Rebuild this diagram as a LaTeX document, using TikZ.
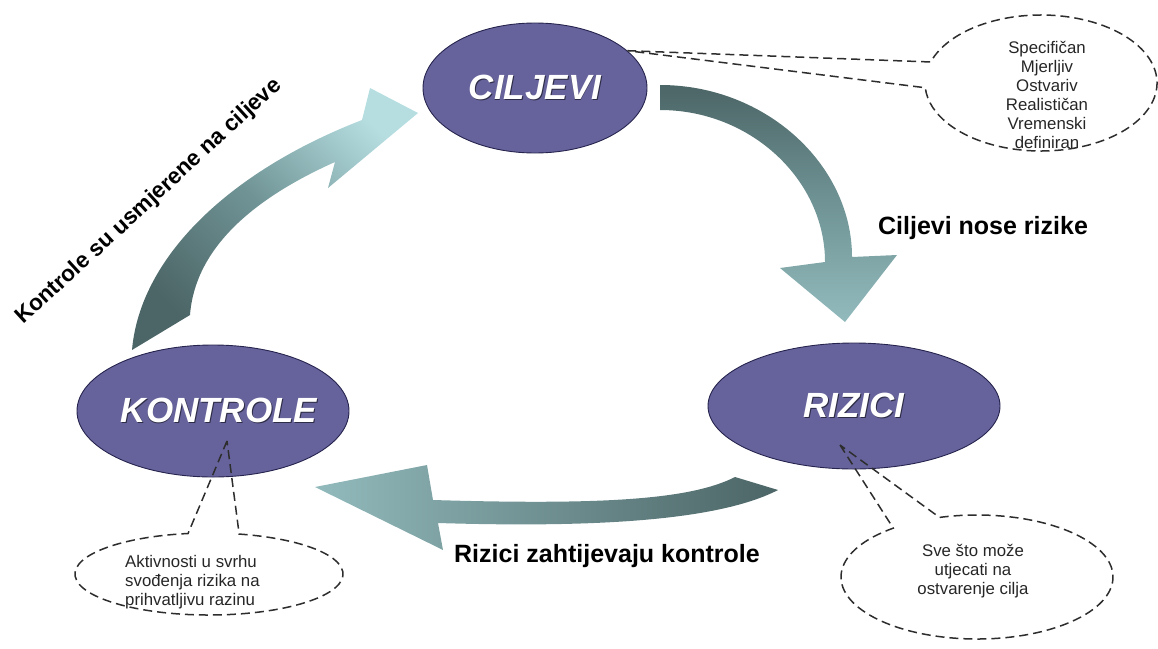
\documentclass[tikz,border=0pt]{standalone}
\usepackage{fontspec}
\setmainfont{Liberation Sans}
\usetikzlibrary{shapes.geometric,calc}
\definecolor{elfill}{RGB}{102,99,156}
\definecolor{eldraw}{RGB}{38,36,78}
\definecolor{elshadow}{RGB}{45,44,70}
\definecolor{adark}{RGB}{76,101,102}
\definecolor{amid}{RGB}{112,148,150}
\definecolor{alight}{RGB}{146,186,188}
\definecolor{alight2}{RGB}{182,222,225}
\definecolor{dashc}{RGB}{45,45,45}
\newcommand{\shtxt}[1]{\makebox[0pt]{\raisebox{-1.6pt}{\kern1.6pt\color{elshadow}#1}}\makebox[0pt]{#1}}
\begin{document}
\begin{tikzpicture}[x=1pt,y=1pt,
  mainel/.style={ellipse, fill=elfill, draw=eldraw, line width=0.9pt, inner sep=0pt,
    text=white, font=\fontsize{35}{40}\selectfont\bfseries\itshape},
  lbl/.style={font=\fontsize{25}{30}\selectfont\bfseries, text=black, inner sep=0pt},
  ctext/.style={font=\fontsize{16.8}{19}\selectfont, inner sep=0pt, text=black!85},
  dline/.style={draw=dashc, dash pattern=on 9pt off 5pt, line width=1.5pt},
]
\useasboundingbox (0,0) rectangle (1158,-648);

% block arrows
\shade[top color=adark, bottom color=alight2, middle color=amid, shading angle=135]
  (132,-350) .. controls (140,-258) and (228,-172) .. (362,-120)
  -- (370,-88) -- (418,-113) -- (328,-188) -- (335,-162)
  .. controls (250,-200) and (195,-250) .. (190,-315) -- cycle;
\shade[top color=adark, bottom color=alight, middle color=amid]
  (660,-85) .. controls (766,-85) and (852,-165) .. (852,-257)
  -- (897,-255) -- (845,-322) -- (780,-268) -- (825,-262)
  .. controls (825,-180) and (751,-110) .. (660,-110) -- cycle;
\shade[left color=alight, right color=adark]
  (735,-477) .. controls (690,-500) and (600,-505) .. (433,-500)
  -- (427,-465) -- (315,-487) -- (443,-550) -- (438,-523)
  .. controls (600,-528) and (720,-520) .. (778,-490) -- cycle;

% main ellipses
\node[mainel, minimum width=224, minimum height=130] (cil) at (535,-88) {\shtxt{CILJEVI}};
\node[mainel, minimum width=272, minimum height=132] (kon) at (213,-411) {\shtxt{\hspace*{12pt}KONTROLE}};
\node[mainel, minimum width=292, minimum height=126] (riz) at (854,-406) {\shtxt{RIZICI}};

% labels
\node[lbl, anchor=base] (l1) at (983,-234) {Ciljevi nose rizike};
\node[lbl, anchor=base] (l2) at (607,-562) {Rizici zahtijevaju kontrole};
\node[lbl, anchor=base, rotate=42.6, font=\fontsize{22.5}{27}\selectfont\bfseries] (l3) at (153,-206) {Kontrole su usmjerene na ciljeve};

% callouts
\coordinate (trc) at (1041,-83);
\node[ctext, align=center] (trt) at (1047,-95) {Specifičan\\Mjerljiv\\Ostvariv\\Realističan\\Vremenski\\definiran};
\draw[dline] (cil.22) -- ($(trc)+(162:116pt and 68pt)$)
  arc[start angle=162, end angle=-176, x radius=116pt, y radius=68pt] -- (cil.22);

\coordinate (blc) at (209,-574);
\coordinate (ktip) at (227,-441);
\node[ctext, align=left, anchor=west] (blt) at (125,-582) {Aktivnosti u svrhu\\svođenja rizika na\\prihvatljivu razinu};
\draw[dline] (ktip) -- ($(blc)+(99:134pt and 41pt)$)
  arc[start angle=99, end angle=437, x radius=134pt, y radius=41pt] -- (ktip);

\coordinate (brc) at (977,-577);
\coordinate (rtip) at (840,-445);
\node[ctext, align=center] (brt) at (973,-571) {Sve što može\\utjecati na\\ostvarenje cilja};
\draw[dline] (rtip) -- ($(brc)+(128:136pt and 62pt)$)
  arc[start angle=128, end angle=466, x radius=136pt, y radius=62pt] -- (rtip);
\end{tikzpicture}
\end{document}
